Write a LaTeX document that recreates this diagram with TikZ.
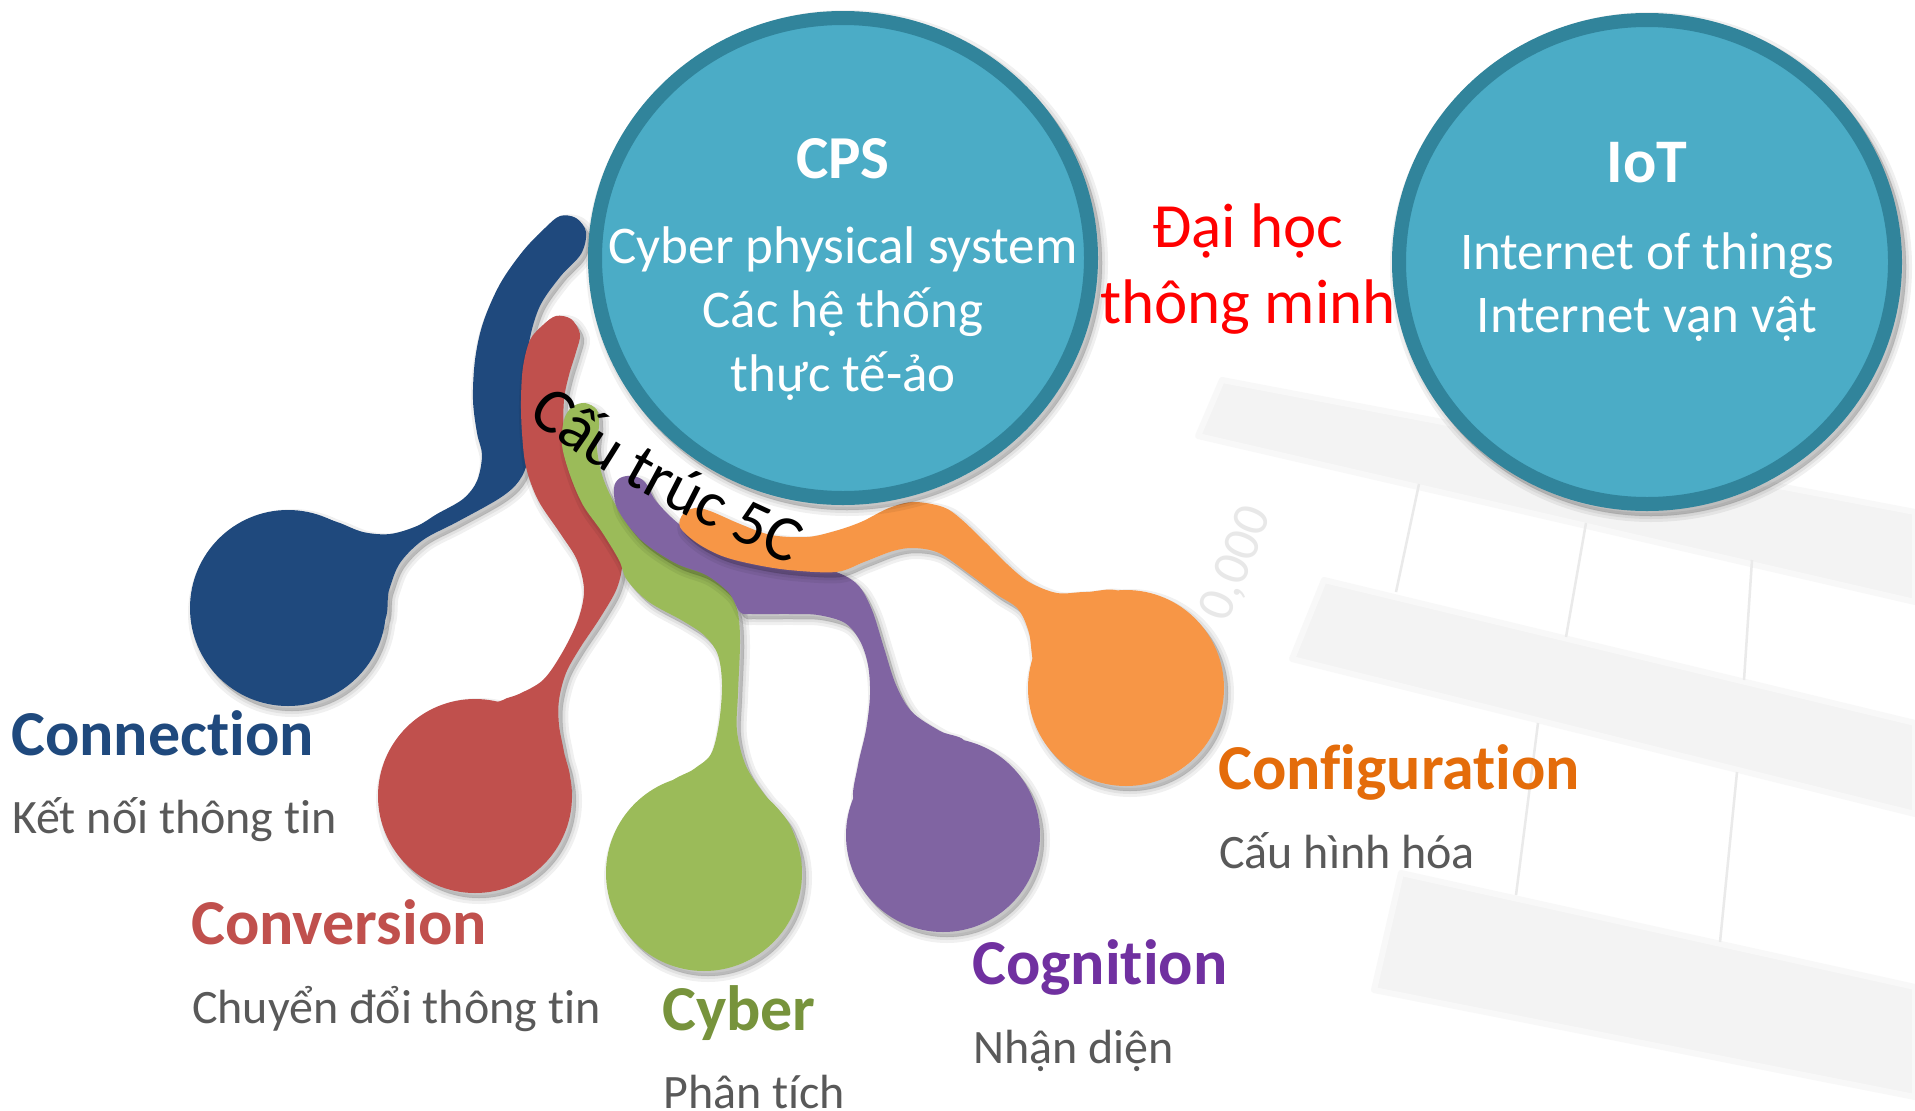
\documentclass[tikz,border=0pt]{standalone}
\usepackage{fontspec}
\setmainfont{Carlito}[Ligatures={NoCommon}]
\usetikzlibrary{decorations.text,shapes.geometric}
\definecolor{cpsfill}{HTML}{4BACC6}
\definecolor{cpsline}{HTML}{31849B}
\definecolor{cblue}{HTML}{1F497D}
\definecolor{cred}{HTML}{C0504D}
\definecolor{cgreen}{HTML}{9BBB59}
\definecolor{cpurple}{HTML}{8064A2}
\definecolor{corange}{HTML}{F79646}
\definecolor{tgreen}{HTML}{77933C}
\definecolor{tpurple}{HTML}{7030A0}
\definecolor{torange}{HTML}{E46C0A}
\definecolor{tgray}{HTML}{595959}
\definecolor{bgband}{HTML}{F3F3F3}
\definecolor{bgline}{HTML}{EAEAEA}
\newcommand\softshadow[1]{%
  \begin{scope}[shift={(4,5)}]
    \foreach \lw in {12pt,6pt,1pt}{\path[fill=black,draw=black,opacity=0.06,line width=\lw,line join=round] #1;}
  \end{scope}}
\newcommand\tentacle[4]{%
  \softshadow{plot[smooth cycle,tension=0.55] coordinates {#2} (#3) circle[radius=#4]}
  \fill[#1] plot[smooth cycle,tension=0.55] coordinates {#2};
  \fill[#1] (#3) circle[radius=#4];}
\tikzset{
  ttl/.style={font=\bfseries\fontsize{64}{64}\selectfont, anchor=base west, inner sep=0pt},
  subt/.style={font=\fontsize{48}{48}\selectfont, text=tgray, anchor=base west, inner sep=0pt},
  inball/.style={font=\fontsize{53}{53}\selectfont, text=white, anchor=base, inner sep=0pt},
  ballhead/.style={font=\bfseries\fontsize{61}{61}\selectfont, text=white, anchor=base, inner sep=0pt},
  redtxt/.style={font=\fontsize{63}{63}\selectfont, text=red, anchor=base, inner sep=0pt},
  ball/.style={shape=ellipse, draw=cpsline, fill=cpsfill, line width=14pt, inner sep=0pt},
  bgfill/.style={fill=bgband, draw=bgband!60!white, line width=6pt, line join=round},
  bgrule/.style={draw=bgline, line width=2.5pt},
}
\begin{document}
\begin{tikzpicture}[x=1pt,y=-1pt]
\useasboundingbox (0,0) rectangle (1915,1111);
\fill[white] (0,0) rectangle (1915,1111);
% faint background chart
\filldraw[bgfill] (1222,380) -- (1915,512) -- (1915,602) -- (1198,436) -- cycle;
\filldraw[bgfill] (1324,580) -- (1915,723) -- (1915,814) -- (1292,659) -- cycle;
\filldraw[bgfill] (1401,873) -- (1915,987) -- (1915,1097) -- (1374,990) -- cycle;
\draw[bgrule] (1419,484) -- (1396,592);
\draw[bgrule] (1586,523) -- (1566,637);
\draw[bgrule] (1752,560) -- (1744,680);
\draw[bgrule] (1538,723) -- (1516,895);
\draw[bgrule] (1737,772) -- (1720,942);
\node[font=\fontsize{52}{52}\selectfont, text=black!9, rotate=68] (bgnum) at (1237,564) {0,000};
% tentacles
\tentacle{cblue}{(560,216) (576,218) (586,232) (581,254) (560,277) (539,308) (528,350) (528,400) (530,433) (528,460) (519,481) (500,498) (457,522) (423,540) (400,563) (389,590) (378,626) (300,620) (292,540) (316,518) (337,522) (363,532) (390,534) (417,526) (437,514) (463,499) (477,481) (482,455) (477,433) (473,400) (475,360) (483,323) (500,284) (523,251) (545,228)}{288,608}{98}
\tentacle{cred}{(543,325) (556,316) (571,319) (580,334) (576,352) (569,375) (564,400) (564,436) (572,470) (590,503) (612,532) (622,560) (617,588) (600,618) (580,648) (566,673) (559,700) (559,725) (564,752) (569,785) (540,815) (480,790) (492,712) (503,700) (519,694) (543,680) (562,653) (578,620) (584,590) (577,560) (560,533) (538,500) (526,467) (522,433) (521,400) (523,367) (530,340)}{475,796}{97}
\tentacle{cgreen}{(572,407) (585,403) (597,410) (599,425) (597,448) (603,478) (618,509) (641,536) (668,555) (702,570) (725,586) (737,609) (740,640) (738,693) (737,731) (746,766) (765,795) (790,825) (796,860) (760,880) (700,830) (668,788) (694,769) (711,754) (719,723) (722,685) (718,655) (705,636) (683,621) (649,602) (627,580) (619,560) (602,532) (583,505) (570,475) (562,445) (564,420)}{704,873}{98}
\tentacle{cpurple}{(614,488) (620,478) (633,476) (645,482) (656,501) (679,524) (714,547) (752,559) (807,567) (836,572) (858,585) (872,610) (884,648) (896,685) (912,712) (940,731) (966,744) (950,790) (880,800) (854,800) (858,765) (866,730) (870,695) (868,665) (860,641) (845,623) (818,615) (790,614) (752,614) (740,612) (729,593) (706,575) (675,563) (641,540) (618,510)}{943,835}{97}
\tentacle{corange}{(680,527) (683,514) (695,508) (710,511) (740,524) (771,535) (807,537) (835,531) (861,522) (889,508) (914,502) (943,507) (961,519) (986,543) (1007,564) (1029,582) (1057,593) (1086,592) (1121,594) (1110,650) (1050,690) (1034,664) (1029,633) (1018,609) (996,594) (968,573) (939,553) (914,548) (893,551) (864,562) (836,572) (789,570) (752,564) (722,556) (697,543)}{1126,688}{98}
% big balls
\softshadow{(843,258) ellipse [x radius=255, y radius=247]}
\node[ball, minimum width=496pt, minimum height=480pt] (cps) at (843,258) {};
\softshadow{(1647,262) ellipse [x radius=255, y radius=249]}
\node[ball, minimum width=496pt, minimum height=484pt] (iot) at (1647,262) {};
\node[ballhead] (cpsT) at (843,178) {CPS};
\node[inball] (cps1) at (843,263) {Cyber physical system};
\node[inball] (cps2) at (843,327) {Các hệ thống};
\node[inball] (cps3) at (843,391) {thực tế-ảo};
\node[ballhead, font=\bfseries\fontsize{62}{62}\selectfont] (iotT) at (1647,182) {IoT};
\node[inball] (iot1) at (1647,269) {Internet of things};
\node[inball] (iot2) at (1647,332) {Internet vạn vật};
\node[redtxt] (dh1) at (1248,247) {Đại học};
\node[redtxt] (dh2) at (1248,323) {thông minh};
% labels
\node[ttl, text=cblue] (l1) at (11,755) {Connection};
\node[subt] (s1) at (12,833) {Kết nối thông tin};
\node[ttl, text=cred] (l2) at (191,944) {Conversion};
\node[subt] (s2) at (192,1023) {Chuyển đổi thông tin};
\node[ttl, text=tgreen] (l3) at (662,1030) {Cyber};
\node[subt] (s3) at (663,1108) {Phân tích};
\node[ttl, text=tpurple] (l4) at (972,984) {Cognition};
\node[subt] (s4) at (973,1063) {Nhận diện};
\node[ttl, text=torange] (l5) at (1218,789) {Configuration};
\node[subt] (s5) at (1219,868) {Cấu hình hóa};
% curved caption
\path[decorate, decoration={text along path, text={|\fontsize{65}{65}\selectfont|Cấu trúc 5C}}] (527,416) .. controls (605,483) and (730,538) .. (835,584);
\end{tikzpicture}
\end{document}
